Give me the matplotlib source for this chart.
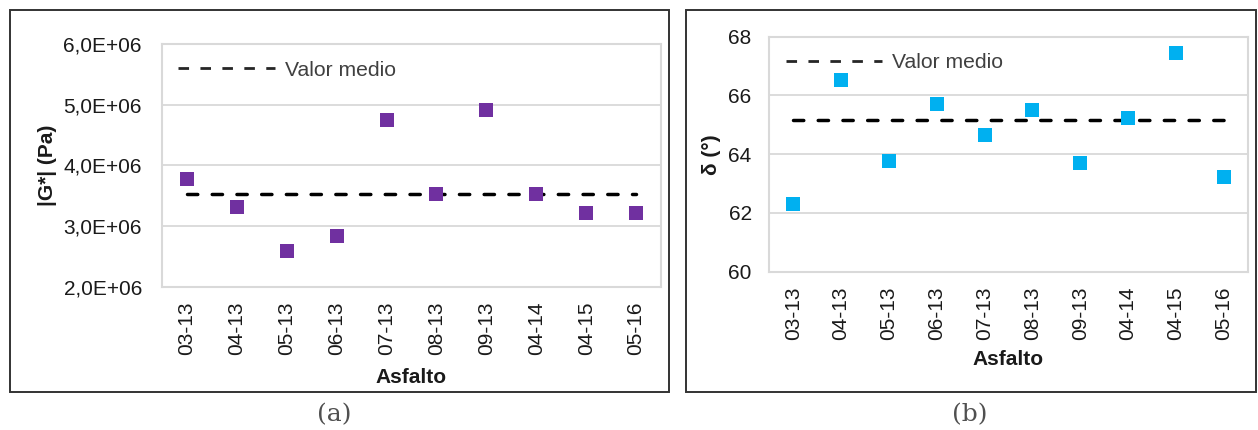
import matplotlib
matplotlib.use("Agg")
import matplotlib.pyplot as plt
from matplotlib.lines import Line2D
from matplotlib.patches import Rectangle
from matplotlib.ticker import FuncFormatter, MultipleLocator

plt.rcParams['font.family'] = ['Liberation Sans', 'DejaVu Sans']
plt.rcParams['lines.scale_dashes'] = False

# Asphalt samples
asfaltos = ["03-13", "04-13", "05-13", "06-13", "07-13",
            "08-13", "09-13", "04-14", "04-15", "05-16"]

# Complex modulus |G*| (Pa)
g_star = [3.78e6, 3.31e6, 2.59e6, 2.83e6, 4.75e6,
          3.52e6, 4.92e6, 3.52e6, 3.22e6, 3.22e6]
g_star_medio = 3.53e6

# Phase angle delta (degrees)
delta = [62.31, 66.54, 63.78, 65.70, 64.67,
         65.52, 63.71, 65.22, 67.46, 63.22]
delta_medio = 65.18

FS = 15
FS_LEG = 15.2
GRID = '#D9D9D9'
TXT = '#1a1a1a'

fig = plt.figure(figsize=(12.58, 4.30), dpi=100)
W, H = 1258, 430


def fig_rect(x0, y0, x1, y1):
    return [x0 / W, 1 - y1 / H, (x1 - x0) / W, (y1 - y0) / H]


ax1 = fig.add_axes(fig_rect(162, 44, 661, 286.7))
ax2 = fig.add_axes(fig_rect(769.3, 36.7, 1247.7, 271.7))

# Outer frames around each panel
for x0, x1 in [(9.5, 669), (685.5, 1256)]:
    fig.patches.append(Rectangle((x0 / W, 1 - 391.5 / H), (x1 - x0) / W,
                                 (391.5 - 10) / H, transform=fig.transFigure,
                                 fill=False, edgecolor='#333333', lw=1.4))

xs = list(range(len(asfaltos)))


def style_axes(ax, ypad, xlab_y):
    ax.set_xlim(-0.5, len(asfaltos) - 0.5)
    ax.set_xticks(xs)
    ax.set_xticklabels(asfaltos, rotation=90, fontsize=FS, color=TXT)
    ax.tick_params(axis='x', length=0, pad=10.5)
    ax.tick_params(axis='y', length=0, pad=ypad, labelsize=FS, labelcolor=TXT)
    ax.grid(axis='y', color=GRID, lw=1.3)
    ax.set_axisbelow(True)
    for s in ax.spines.values():
        s.set_color(GRID)
        s.set_linewidth(1.5)
    ax.set_xlabel('Asfalto', fontsize=FS, fontweight='bold', color=TXT)
    ax.xaxis.set_label_coords(0.5, xlab_y)


def draw_panel(ax, values, mean, color):
    ax.plot(xs, values, linestyle='none', marker='s', markersize=9.8,
            markerfacecolor=color, markeredgewidth=0, zorder=3)
    ax.plot([xs[0], xs[-1]], [mean, mean], color='black', lw=2.5,
            dashes=(7.4, 10.4), dash_capstyle='round', zorder=2)
    handle = Line2D([], [], color='#262626', lw=2.0, dashes=(7.6, 8.2))
    return handle


# (a) complex modulus
h1 = draw_panel(ax1, g_star, g_star_medio, '#7030A0')
style_axes(ax1, 14.4, -0.335)
ax1.set_ylim(2.0e6, 6.0e6)
ax1.yaxis.set_major_locator(MultipleLocator(1.0e6))
ax1.yaxis.set_major_formatter(FuncFormatter(
    lambda v, p: f"{v / 1e6:.1f}".replace('.', ',') + "E+06"))
ax1.set_ylabel('|G*| (Pa)', fontsize=FS, fontweight='bold', color=TXT)
ax1.yaxis.set_label_coords(-0.210, 0.5)
ax1.legend([h1], ['Valor medio'], loc='center left',
           bbox_to_anchor=(16 / 499, 1 - 26 / 242.7), frameon=False,
           fontsize=FS_LEG, labelcolor='#404040', handlelength=4.6,
           handletextpad=0.48, borderpad=0, borderaxespad=0)

# (b) phase angle
h2 = draw_panel(ax2, delta, delta_medio, '#00B0F0')
style_axes(ax2, 12.7, -0.333)
ax2.set_ylim(60, 68)
ax2.yaxis.set_major_locator(MultipleLocator(2))
ax2.set_ylabel('δ (°)', fontsize=FS, fontweight='bold', color=TXT)
ax2.yaxis.set_label_coords(-0.101, 0.5)
ax2.legend([h2], ['Valor medio'], loc='center left',
           bbox_to_anchor=(16.7 / 478.4, 1 - 26 / 235), frameon=False,
           fontsize=FS_LEG, labelcolor='#404040', handlelength=4.55,
           handletextpad=0.48, borderpad=0, borderaxespad=0)

# Panel captions
for x, lab in [(334, '(a)'), (970, '(b)')]:
    fig.text(x / W, 1 - 415 / H, lab, ha='center', va='center',
             fontsize=18, family='DejaVu Serif', color='#505050')

fig.savefig('out.png', dpi=100)
